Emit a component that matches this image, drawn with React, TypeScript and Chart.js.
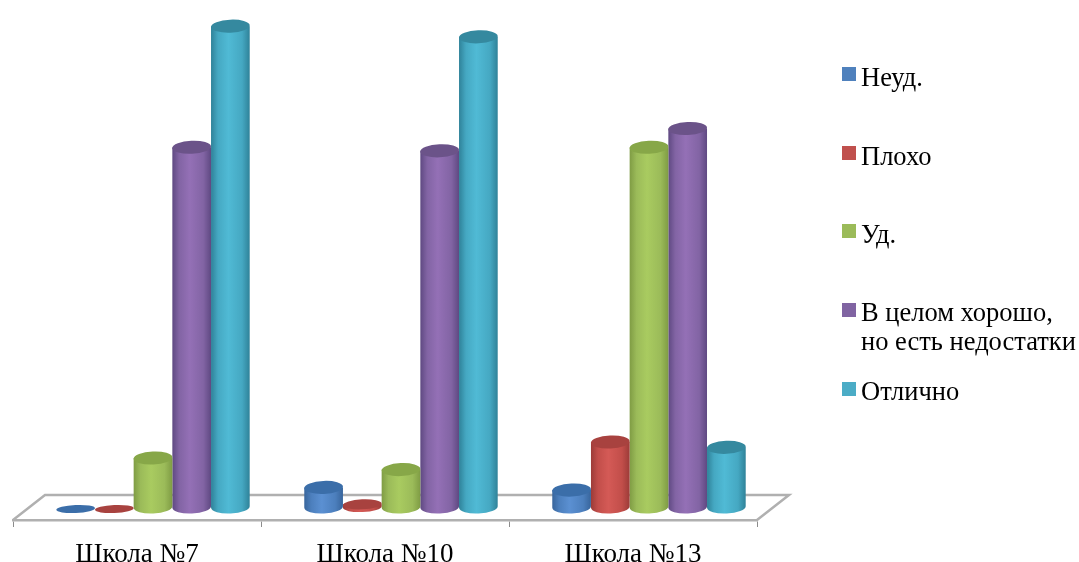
import React, { useEffect, useRef } from "react";
import { Chart, registerables } from "chart.js";

Chart.register(...registerables);

const categories = ["Школа №7", "Школа №10", "Школа №13"];
const seriesNames = ["Неуд.", "Плохо", "Уд.", "В целом хорошо,\nно есть недостатки", "Отлично"];
const neud = [0, 2.2, 1.9];
const ploho = [0, 0.3, 7.3];
const ud = [5.5, 4.2, 40.4];
const vCelom = [40.4, 40, 42.5];
const otlichno = [54, 52.8, 6.7];
const seriesValues = [neud, ploho, ud, vCelom, otlichno];

const legendColors = ["#4f81bd", "#c0504d", "#9bbb59", "#8064a2", "#4bacc6"];
const swatchTops = [67, 146, 224, 303, 382];
const legendTextTops = [63, 142, 220, 298, 377];
// [edge, base, highlight, cap]
const shades = [
  ["#38659c", "#4c7fbd", "#5b90d2", "#3b6ea9"],
  ["#9c3b38", "#c24e4a", "#d45a56", "#a8423f"],
  ["#7f9c44", "#9bbb59", "#a9cb60", "#87a748"],
  ["#5f4982", "#8264a4", "#9470b6", "#6b5389"],
  ["#2f8299", "#45a8c2", "#50bad5", "#35899f"],
];

const FONT = "'Liberation Serif', serif";
const DEPTH_X = 16;
const DEPTH_Y = 13;
const FLOOR_X = 32;
const FLOOR_Y = 25;
const TILT = -0.045;

const floorPlugin = {
  id: "floor",
  beforeDatasetsDraw(chart: any) {
    const { ctx, scales } = chart;
    const l = scales.x.left;
    const r = scales.x.right;
    const b = scales.y.getPixelForValue(0);
    ctx.save();
    ctx.strokeStyle = "#b0b0b0";
    ctx.lineWidth = 2.5;
    ctx.beginPath();
    ctx.moveTo(l, b);
    ctx.lineTo(l + FLOOR_X, b - FLOOR_Y);
    ctx.lineTo(r + FLOOR_X, b - FLOOR_Y);
    ctx.lineTo(r, b);
    ctx.stroke();
    ctx.restore();
  },
};

const cylinderPlugin = {
  id: "cylinder",
  beforeDatasetDraw(chart: any, args: any) {
    const { ctx } = chart;
    const s = shades[args.index];
    ctx.save();
    ctx.translate(DEPTH_X, -DEPTH_Y);
    ctx.filter = "blur(0.6px)";
    for (const bar of args.meta.data) {
      const { x, y, base, width } = bar.getProps(["x", "y", "base", "width"], true);
      const rx = width / 2;
      const h = base - y;
      const ry = h < 1 ? 4 : h < 5 ? 5 : 6.5;
      const top = h < 1 ? y + 2 : y;
      if (h >= 1) {
        const g = ctx.createLinearGradient(x - rx, 0, x + rx, 0);
        g.addColorStop(0, s[0]);
        g.addColorStop(0.18, s[1]);
        g.addColorStop(0.45, s[2]);
        g.addColorStop(0.8, s[1]);
        g.addColorStop(1, s[0]);
        ctx.fillStyle = g;
        ctx.beginPath();
        ctx.moveTo(x - rx, top);
        ctx.lineTo(x - rx, base);
        ctx.ellipse(x, base, rx, ry, TILT, Math.PI, 0, true);
        ctx.lineTo(x + rx, top);
        ctx.closePath();
        ctx.fill();
      }
      ctx.fillStyle = s[3];
      ctx.beginPath();
      ctx.ellipse(x, top, rx, ry, TILT, 0, Math.PI * 2);
      ctx.fill();
    }
    ctx.restore();
    return false;
  },
};

export default function App() {
  const ref = useRef<HTMLCanvasElement>(null);
  useEffect(() => {
    const chart = new Chart(ref.current!, {
      type: "bar",
      data: {
        labels: categories,
        datasets: seriesValues.map((data, i) => ({
          label: seriesNames[i],
          data,
          backgroundColor: legendColors[i],
          categoryPercentage: 0.78,
          barPercentage: 1,
        })),
      },
      options: {
        responsive: false,
        animation: false,
        layout: { padding: { left: 13, right: 322, top: 8, bottom: 0 } },
        plugins: { legend: { display: false }, title: { display: false }, tooltip: { enabled: false } },
        scales: {
          x: {
            afterFit: (s: any) => {
              s.height = 42;
            },
            border: { color: "#b0b0b0", width: 2.5 },
            grid: { drawOnChartArea: false, drawTicks: true, tickLength: 7, color: "#8c8c8c", offset: true },
            ticks: { color: "#000", font: { family: FONT, size: 27 }, padding: 12, maxRotation: 0 },
          },
          y: { display: false, min: 0, max: 57.5 },
        },
      },
      plugins: [floorPlugin, cylinderPlugin],
    } as any);
    return () => chart.destroy();
  }, []);

  return (
    <div style={{ position: "absolute", left: 0, top: 0, width: 1079, height: 562, overflow: "hidden", background: "#fff" }}>
      <canvas ref={ref} width={1079} height={562} style={{ display: "block" }} />
      {seriesNames.map((name, i) => (
        <div key={i} style={{ position: "absolute", left: 842, top: swatchTops[i], width: 14, height: 14, background: legendColors[i] }} />
      ))}
      {seriesNames.map((name, i) => (
        <div
          key={"t" + i}
          style={{
            position: "absolute",
            left: 861,
            top: legendTextTops[i],
            fontFamily: FONT,
            fontSize: 26.5,
            lineHeight: "29px",
            whiteSpace: "pre",
            color: "#000",
          }}
        >
          {name}
        </div>
      ))}
    </div>
  );
}
